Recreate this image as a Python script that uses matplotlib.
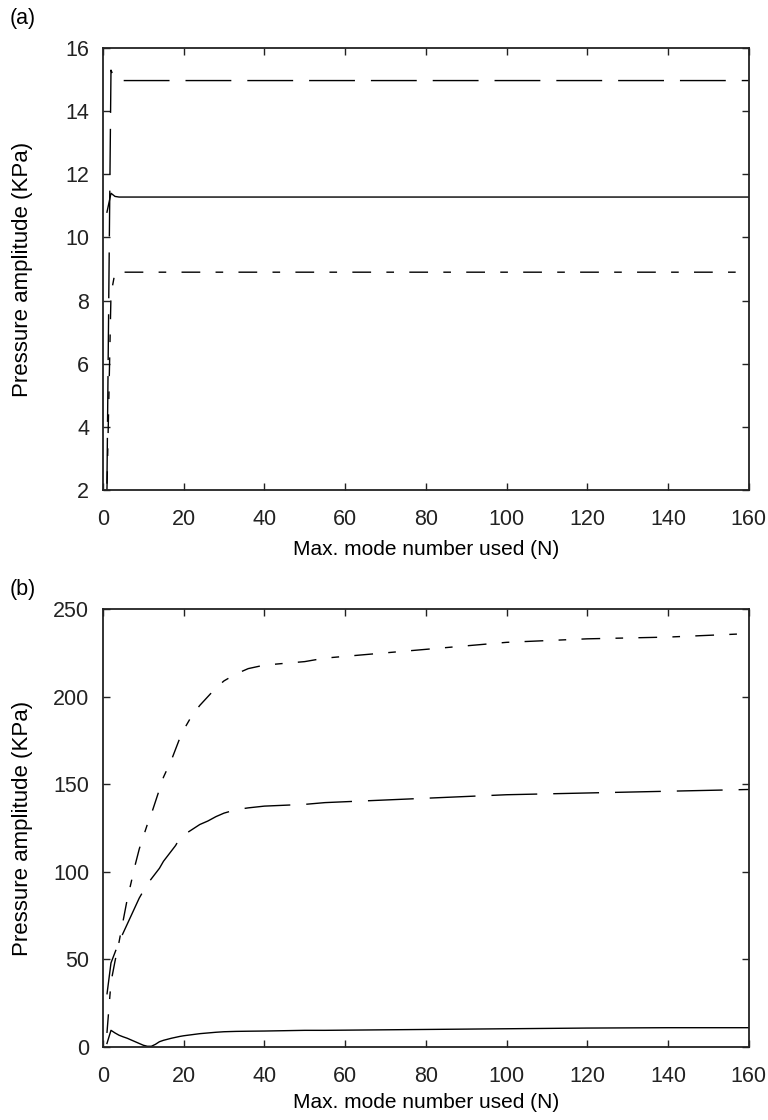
import matplotlib
matplotlib.use("Agg")
import matplotlib.pyplot as plt

plt.rcParams['font.family'] = ['Liberation Sans Narrow', 'Liberation Sans', 'DejaVu Sans']
plt.rcParams['font.size'] = 15.5

# (a) convergence of pressure amplitude with number of modes
a_N = [1, 2, 3, 4, 5, 10, 20, 40, 60, 80, 100, 120, 140, 160]
a_solid = [10.8, 11.4, 11.3, 11.28, 11.28, 11.28, 11.28, 11.28, 11.28, 11.28, 11.28, 11.28, 11.28, 11.28]
a_dash = [2.2, 15.3, 15.0, 14.97, 14.97, 14.97, 14.97, 14.97, 14.97, 14.97, 14.97, 14.97, 14.97, 14.97]
a_dashdot = [2.0, 8.2, 8.9, 8.9, 8.9, 8.9, 8.9, 8.9, 8.9, 8.9, 8.9, 8.9, 8.9, 8.9]

# (b) same quantities at the second location
b_N = [1, 2, 3, 4, 5, 6, 7, 8, 9, 10, 11, 12, 13, 14, 15, 16, 17, 18, 19, 20,
       22, 24, 26, 28, 30, 33, 36, 40, 45, 50, 55, 60, 70, 80, 90, 100,
       110, 120, 130, 140, 150, 160]
b_solid = [2.0, 9.5, 8.0, 6.7, 5.8, 5.0, 4.0, 3.0, 2.0, 1.0, 0.4, 0.4, 1.5, 3.0, 3.8, 4.4, 5.0, 5.5, 6.0, 6.4,
           7.0, 7.6, 8.0, 8.4, 8.7, 8.9, 9.0, 9.1, 9.3, 9.5, 9.5, 9.6, 9.8, 10.0, 10.2, 10.4,
           10.6, 10.8, 10.9, 11.0, 11.0, 11.0]
b_dash = [30, 48, 54, 60, 65, 70, 75, 80, 85, 89, 93, 96, 99, 102, 106, 109, 112, 115, 119, 121,
          124, 127, 129, 131.5, 133.5, 135.5, 136.5, 137.5, 138, 138.5, 139.5, 140, 141, 142, 143, 144,
          144.5, 145, 145.5, 146, 146.5, 147]
b_dashdot = [8, 37, 49, 60, 72, 84, 94, 104, 113, 120, 127, 133, 140, 147, 154, 159, 164, 170, 176, 181,
             189, 195, 200, 205, 209, 213, 216, 218, 219, 220, 222, 223, 225, 227, 229, 231,
             232, 233, 233.5, 234, 235, 236]

fig = plt.figure(figsize=(7.68, 11.2), dpi=100)
ax1 = fig.add_axes([0.134, 0.5625, 0.841, 0.3946])
ax2 = fig.add_axes([0.134, 0.0652, 0.841, 0.3910])

lw = 1.0
long_dash = (0, (33, 11.5))
dash_dot = (0, (13.5, 11, 5.5, 11))

ax1.plot(a_N, a_solid, color='black', lw=lw, linestyle='-')
ax1.plot(a_N, a_dash, color='black', lw=lw, linestyle=long_dash)
ax1.plot(a_N, a_dashdot, color='black', lw=lw, linestyle=dash_dot)

ax2.plot(b_N, b_solid, color='black', lw=lw, linestyle='-')
ax2.plot(b_N, b_dash, color='black', lw=lw, linestyle=long_dash)
ax2.plot(b_N, b_dashdot, color='black', lw=lw, linestyle=dash_dot)

ax1.set_xlim(0, 160)
ax1.set_ylim(2, 16)
ax1.set_yticks([2, 4, 6, 8, 10, 12, 14, 16])
ax2.set_xlim(0, 160)
ax2.set_ylim(0, 250)
ax2.set_yticks([0, 50, 100, 150, 200, 250])

for ax in (ax1, ax2):
    ax.set_xticks(range(0, 161, 20))
    ax.tick_params(direction='in', top=True, right=True, length=5, width=1,
                   labelsize=15.5, colors='#222222')
    ax.tick_params(axis='x', pad=14)
    ax.tick_params(axis='y', pad=10)
    for s in ax.spines.values():
        s.set_linewidth(1.3)
        s.set_color('#222222')
    ax.set_xlabel('Max. mode number used (N)', fontsize=15)
    ax.set_ylabel('Pressure amplitude (KPa)', fontsize=16)
    ax.yaxis.set_label_coords(-0.108, 0.5)

ax1.xaxis.set_label_coords(0.5, -0.114)
ax2.xaxis.set_label_coords(0.5, -0.106)

fig.text(0.012, 0.993, '(a)', fontsize=15.5, va='top')
fig.text(0.012, 0.483, '(b)', fontsize=15.5, va='top')

fig.savefig('out.png', dpi=100)
